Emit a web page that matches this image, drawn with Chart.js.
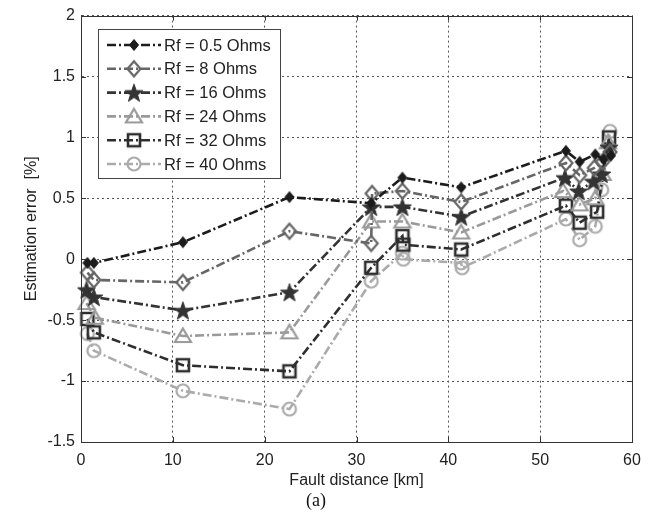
<!DOCTYPE html>
<html>
<head>
<meta charset="utf-8">
<script src="https://cdn.jsdelivr.net/npm/chart.js@4.4.1/dist/chart.umd.min.js"></script>
<style>
  html, body { margin: 0; padding: 0; background: #fff; }
</style>
</head>
<body>
<canvas id="c" width="665" height="512"></canvas>
<script>
// Fault location estimation error vs. fault distance, for six fault resistances
const seriesLabels = ['Rf = 0.5 Ohms', 'Rf = 8 Ohms', 'Rf = 16 Ohms', 'Rf = 24 Ohms', 'Rf = 32 Ohms', 'Rf = 40 Ohms'];

const rf05Km  = [0.7, 1.4, 11.1, 22.7, 31.6, 35.0, 41.4, 52.8, 54.3, 56.0, 56.9, 57.7];
const rf05Err = [-0.03, -0.03, 0.14, 0.51, 0.46, 0.67, 0.59, 0.89, 0.80, 0.86, 0.82, 0.85];

const rf8Km   = [0.7, 1.4, 11.1, 22.7, 31.6, 31.7, 35.0, 41.4, 52.8, 54.3, 55.9, 56.8, 57.6];
const rf8Err  = [-0.11, -0.17, -0.19, 0.23, 0.13, 0.54, 0.56, 0.47, 0.79, 0.69, 0.75, 0.80, 0.88];

const rf16Km  = [0.6, 1.4, 11.1, 22.7, 31.6, 35.0, 41.4, 52.7, 54.2, 55.8, 56.7, 57.5];
const rf16Err = [-0.25, -0.31, -0.42, -0.27, 0.43, 0.43, 0.35, 0.67, 0.56, 0.64, 0.70, 0.92];

const rf24Km  = [0.6, 1.5, 11.1, 22.7, 31.6, 35.0, 41.4, 52.5, 54.3, 56.0, 56.8, 57.4];
const rf24Err = [-0.36, -0.48, -0.63, -0.60, 0.31, 0.31, 0.22, 0.56, 0.45, 0.50, 0.70, 0.96];

const rf32Km  = [0.7, 1.4, 11.1, 22.7, 31.6, 35.0, 35.1, 41.4, 52.8, 54.3, 56.2, 57.5];
const rf32Err = [-0.49, -0.60, -0.87, -0.92, -0.07, 0.19, 0.12, 0.08, 0.44, 0.30, 0.39, 1.00];

const rf40Km  = [0.7, 1.4, 11.1, 22.7, 31.6, 35.0, 35.1, 41.4, 41.5, 52.8, 54.3, 56.0, 56.7, 57.6];
const rf40Err = [-0.61, -0.75, -1.08, -1.23, -0.18, 0.05, 0.00, -0.03, -0.07, 0.33, 0.16, 0.27, 0.57, 1.05];

const xTicks = [0, 10, 20, 30, 40, 50, 60];
const yTicks = [-1.5, -1, -0.5, 0, 0.5, 1, 1.5, 2];

const FONT = "'Liberation Sans', Arial, sans-serif";

// Marker glyphs drawn once into small canvases and used as point styles
function markerCanvas(kind, color) {
  const S = 24, m = S / 2;
  const c = document.createElement('canvas');
  c.width = S; c.height = S;
  const g = c.getContext('2d');
  g.strokeStyle = color; g.fillStyle = color; g.lineWidth = 2.2; g.lineJoin = 'miter';
  g.beginPath();
  if (kind === 'dot') {
    g.moveTo(m, m - 5.5); g.lineTo(m + 4.5, m); g.lineTo(m, m + 5.5); g.lineTo(m - 4.5, m); g.closePath();
    g.fill(); g.lineWidth = 1; g.stroke();
  } else if (kind === 'diamond') {
    g.moveTo(m, m - 7.5); g.lineTo(m + 6.5, m); g.lineTo(m, m + 7.5); g.lineTo(m - 6.5, m); g.closePath();
    g.stroke();
  } else if (kind === 'star') {
    for (let i = 0; i < 10; i++) {
      const r = i % 2 ? 3.8 : 9.5;
      const a = -Math.PI / 2 + i * Math.PI / 5;
      const px = m + r * Math.cos(a), py = m + 1 + r * Math.sin(a);
      if (i === 0) g.moveTo(px, py); else g.lineTo(px, py);
    }
    g.closePath(); g.fill(); g.lineWidth = 1; g.stroke();
  } else if (kind === 'triangle') {
    g.moveTo(m, m - 7.5); g.lineTo(m + 8, m + 6); g.lineTo(m - 8, m + 6); g.closePath();
    g.stroke();
  } else if (kind === 'square') {
    g.lineWidth = 2.6;
    g.rect(m - 6, m - 6, 12, 12);
    g.stroke();
  } else {
    g.arc(m, m, 6.5, 0, Math.PI * 2);
    g.stroke();
  }
  return c;
}

const styles = [
  { color: '#1c1c1c', marker: 'dot' },
  { color: '#666666', marker: 'diamond' },
  { color: '#333333', marker: 'star' },
  { color: '#9a9a9a', marker: 'triangle' },
  { color: '#2e2e2e', marker: 'square' },
  { color: '#ababab', marker: 'circle' }
];

const xs = [rf05Km, rf8Km, rf16Km, rf24Km, rf32Km, rf40Km];
const ys = [rf05Err, rf8Err, rf16Err, rf24Err, rf32Err, rf40Err];

const datasets = seriesLabels.map((label, i) => {
  const img = markerCanvas(styles[i].marker, styles[i].color);
  return {
    label,
    data: xs[i].map((x, k) => ({ x, y: ys[i][k] })),
    showLine: true,
    borderColor: styles[i].color,
    backgroundColor: styles[i].color,
    borderWidth: 2.6,
    borderDash: [9, 3, 2, 3],
    pointStyle: img,
    pointRadius: 6,
    pointHoverRadius: 6,
    tension: 0,
    clip: false
  };
});

// Inner tick marks, closed axes box and the in-plot legend
const framePlugin = {
  id: 'frame',
  afterDraw(chart) {
    const { ctx, chartArea: a, scales } = chart;
    ctx.save();
    ctx.strokeStyle = '#333';
    ctx.lineWidth = 1;
    ctx.setLineDash([]);
    ctx.beginPath();
    xTicks.forEach(t => {
      const x = Math.round(scales.x.getPixelForValue(t)) + 0.5;
      ctx.moveTo(x, a.bottom); ctx.lineTo(x, a.bottom - 5);
      ctx.moveTo(x, a.top); ctx.lineTo(x, a.top + 5);
    });
    yTicks.forEach(t => {
      const y = Math.round(scales.y.getPixelForValue(t)) + 0.5;
      ctx.moveTo(a.left, y); ctx.lineTo(a.left + 5, y);
      ctx.moveTo(a.right, y); ctx.lineTo(a.right - 5, y);
    });
    ctx.stroke();
    ctx.strokeRect(Math.round(a.left) + 0.5, Math.round(a.top) + 0.5,
                   Math.round(a.right - a.left), Math.round(a.bottom - a.top));

    // legend box
    const bx = Math.round(a.left + 17), by = Math.round(a.top + 13), bw = 182, bh = 149;
    ctx.fillStyle = '#fff';
    ctx.fillRect(bx, by, bw, bh);
    ctx.strokeStyle = '#444';
    ctx.strokeRect(bx + 0.5, by + 0.5, bw, bh);
    ctx.font = '16.5px ' + FONT;
    ctx.textBaseline = 'middle';
    ctx.textAlign = 'left';
    chart.data.datasets.forEach((ds, i) => {
      const y = by + 16 + i * 23.8;
      ctx.strokeStyle = ds.borderColor;
      ctx.lineWidth = ds.borderWidth;
      ctx.setLineDash(ds.borderDash);
      ctx.beginPath();
      ctx.moveTo(bx + 9, y); ctx.lineTo(bx + 63, y);
      ctx.stroke();
      ctx.setLineDash([]);
      const img = ds.pointStyle;
      ctx.drawImage(img, bx + 36 - img.width / 2, y - img.height / 2);
      ctx.fillStyle = '#222';
      ctx.fillText(ds.label, bx + 66, y + 1);
    });
    ctx.restore();
  }
};

new Chart(document.getElementById('c'), {
  type: 'scatter',
  data: { datasets },
  plugins: [framePlugin],
  options: {
    responsive: false,
    animation: false,
    devicePixelRatio: 1,
    layout: { padding: { top: 12, right: 33, left: 0, bottom: 0 } },
    plugins: {
      legend: { display: false },
      tooltip: { enabled: false },
      subtitle: {
        display: true,
        text: '(a)',
        position: 'bottom',
        color: '#111',
        font: { family: "'Liberation Serif', 'Times New Roman', serif", size: 18 },
        padding: { top: 0, bottom: 0 }
      }
    },
    scales: {
      x: {
        type: 'linear',
        min: 0, max: 60,
        afterBuildTicks(scale) { scale.ticks = xTicks.map(v => ({ value: v })); },
        afterFit(scale) { scale.height = 48.4; },
        ticks: { color: '#222', font: { family: FONT, size: 16 }, padding: 9, maxRotation: 0,
                 callback: v => String(v) },
        grid: { color: '#555', lineWidth: 1, drawTicks: false },
        border: { display: true, color: '#333', dash: [2, 3] },
        title: {
          display: true, text: 'Fault distance [km]', color: '#222',
          font: { family: FONT, size: 16 }, padding: { top: 0, bottom: 0 }
        }
      },
      y: {
        type: 'linear',
        min: -1.5, max: 2,
        afterBuildTicks(scale) { scale.ticks = yTicks.map(v => ({ value: v })); },
        afterFit(scale) { scale.width = 81; },
        ticks: { color: '#222', font: { family: FONT, size: 16 }, padding: 6,
                 callback: v => String(v) },
        grid: { color: '#555', lineWidth: 1, drawTicks: false },
        border: { display: true, color: '#333', dash: [2, 3] },
        title: {
          display: true, text: 'Estimation error  [%]', color: '#222',
          font: { family: FONT, size: 16 }, padding: { top: 22, bottom: 0 }
        }
      }
    }
  }
});
</script>
</body>
</html>
